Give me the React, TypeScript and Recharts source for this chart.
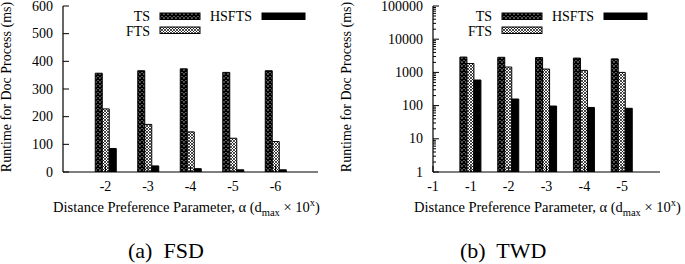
import React from 'react';
import { BarChart, Bar, XAxis, YAxis, Legend } from 'recharts';

const FONT = "'Liberation Serif', 'Times New Roman', Times, serif";
const TXT: React.CSSProperties = { fontFamily: FONT };

// ---------- (a) FSD ----------
const fsdCategories = ['-2', '-3', '-4', '-5', '-6'];
const fsdTS = [357, 366, 373, 360, 366];
const fsdFTS = [228, 172, 145, 122, 110];
const fsdHSFTS = [85, 22, 12, 8, 8];
const fsdYTicks = [0, 100, 200, 300, 400, 500, 600];

// ---------- (b) TWD ----------
const twdEdgeLabel = '-1';
const twdCategories = ['-1', '-2', '-3', '-4', '-5'];
const twdTS = [2900, 2850, 2800, 2700, 2550];
const twdFTS = [1850, 1450, 1260, 1150, 1000];
const twdHSFTS = [590, 158, 97, 88, 83];
const twdMajorTicks = [1, 10, 100, 1000, 10000, 100000];

const seriesNames = ['TS', 'FTS', 'HSFTS'];
const captions = ['(a)  FSD', '(b)  TWD'];

const buildRows = (ts: number[], fts: number[], hs: number[]) =>
  ts.map((v, i) => ({ pos: i + 1, TS: v, FTS: fts[i], HSFTS: hs[i] }));

const fsdRows = buildRows(fsdTS, fsdFTS, fsdHSFTS);
const twdRows = buildRows(twdTS, twdFTS, twdHSFTS);

const twdAllTicks: number[] = [];
twdMajorTicks.forEach((d, i) => {
  twdAllTicks.push(d);
  if (i < twdMajorTicks.length - 1) for (let m = 2; m <= 9; m++) twdAllTicks.push(d * m);
});
const isPow10 = (v: number) => Math.abs(Math.log10(v) - Math.round(Math.log10(v))) < 1e-9;

const MAJ = 6;
const MIN = 3;
const Y_MARGIN = 10;
const X_MARGIN = 9;

const fills: Record<string, string> = { TS: 'url(#patTS)', FTS: 'url(#patFTS)', HSFTS: '#000' };

const makeLeftTick = (isMajor: (v: number) => boolean) => (props: any) => {
  const { x, y, payload } = props;
  const v = payload.value;
  const major = isMajor(v);
  const ax = x + Y_MARGIN;
  return (
    <g>
      <line x1={ax} y1={y} x2={ax + (major ? MAJ : MIN)} y2={y} stroke="#000" strokeWidth={1} />
      {major && (
        <text x={x} y={y} textAnchor="end" dominantBaseline="central" style={TXT} fontSize={14} fill="#000">
          {String(v)}
        </text>
      )}
    </g>
  );
};

const makeRightTick = (isMajor: (v: number) => boolean) => (props: any) => {
  const { x, y, payload } = props;
  const major = isMajor(payload.value);
  return <line x1={x} y1={y} x2={x - (major ? MAJ : MIN)} y2={y} stroke="#000" strokeWidth={1} />;
};

const makeBottomTick = (fmt: (v: number) => string) => (props: any) => {
  const { x, y, payload } = props;
  const ay = y - X_MARGIN;
  return (
    <g>
      <line x1={x} y1={ay} x2={x} y2={ay - MAJ} stroke="#000" strokeWidth={1} />
      <text x={x} y={y} dy="0.71em" textAnchor="middle" style={TXT} fontSize={14} fill="#000">
        {fmt(payload.value)}
      </text>
    </g>
  );
};

const TopTick = (props: any) => {
  const { x, y } = props;
  return <line x1={x} y1={y} x2={x} y2={y + MAJ} stroke="#000" strokeWidth={1} />;
};

const makeXTitle = (cx: number, y: number) => () => (
  <text x={cx} y={y} textAnchor="middle" style={TXT} fontSize={14.5} fill="#000">
    Distance Preference Parameter, α (d
    <tspan fontSize={10.5} dy={4}>max</tspan>
    <tspan dy={-4}>{' \u00d7 10'}</tspan>
    <tspan fontSize={10.5} dy={-6}>x</tspan>
    <tspan dy={6}>)</tspan>
  </text>
);

const makeYTitle = (cx: number, cy: number) => () => (
  <text
    x={cx}
    y={cy}
    transform={`rotate(-90, ${cx}, ${cy})`}
    textAnchor="middle"
    dominantBaseline="central"
    style={TXT}
    fontSize={14}
    fill="#000"
  >
    Runtime for Doc Process (ms)
  </text>
);

const LegendBox = ({ dx, w }: { dx: number; w: number }) => {
  const txt = (x: number, y: number, s: string) => (
    <text x={x + dx} y={y} textAnchor="end" dominantBaseline="central" style={TXT} fontSize={14} fill="#000">
      {s}
    </text>
  );
  return (
    <svg width={w} height={40} style={{ display: 'block' }}>
      {txt(150, 16, seriesNames[0])}
      <rect x={160 + dx} y={13} width={40} height={6.5} fill={fills.TS} stroke="#000" strokeWidth={1} />
      {txt(252, 16, seriesNames[2])}
      <rect x={262 + dx} y={13} width={43} height={6.5} fill={fills.HSFTS} stroke="#000" strokeWidth={1} />
      {txt(150, 31, seriesNames[1])}
      <rect x={160 + dx} y={27} width={40} height={6.5} fill={fills.FTS} stroke="#000" strokeWidth={1} />
    </svg>
  );
};

const axisLine = { stroke: '#000', strokeWidth: 1.2 };

const FsdChart = () => {
  const xTicks = [1, 2, 3, 4, 5];
  const fmt = (v: number) => fsdCategories[v - 1] ?? '';
  return (
    <BarChart width={342} height={264} data={fsdRows} margin={{ top: 6, right: 24, bottom: 52, left: 0 }} barGap={0}>
      <Legend
        layout="horizontal"
        verticalAlign="middle"
        align="center"
        wrapperStyle={{ top: 0, left: 0, width: 342, height: 40 }}
        content={() => <LegendBox dx={0} w={342} />}
      />
      <XAxis
        dataKey="pos"
        type="number"
        domain={[0, 6]}
        allowDataOverflow
        ticks={xTicks}
        interval={0}
        height={40}
        tickSize={0}
        tickMargin={X_MARGIN}
        tickLine={false}
        axisLine={axisLine}
        tick={makeBottomTick(fmt)}
        label={{ content: makeXTitle(186.5, 212) }}
      />
      <XAxis
        xAxisId="t"
        orientation="top"
        dataKey="pos"
        type="number"
        domain={[0, 6]}
        allowDataOverflow
        ticks={xTicks}
        interval={0}
        height={0}
        tickSize={0}
        tickMargin={0}
        tickLine={false}
        axisLine={axisLine}
        tick={TopTick}
      />
      <YAxis
        type="number"
        domain={[0, 600]}
        allowDataOverflow
        ticks={fsdYTicks}
        interval={0}
        width={63}
        tickSize={0}
        tickMargin={Y_MARGIN}
        tickLine={false}
        axisLine={axisLine}
        tick={makeLeftTick(() => true)}
        label={{ content: makeYTitle(6.5, 87) }}
      />
      <YAxis
        yAxisId="r"
        orientation="right"
        type="number"
        domain={[0, 600]}
        allowDataOverflow
        ticks={fsdYTicks}
        interval={0}
        width={0}
        tickSize={0}
        tickMargin={0}
        tickLine={false}
        axisLine={axisLine}
        tick={makeRightTick(() => true)}
      />
      {seriesNames.map((s) => (
        <Bar key={s} dataKey={s} barSize={7} fill={fills[s]} stroke="#000" strokeWidth={1} isAnimationActive={false} />
      ))}
    </BarChart>
  );
};

const TwdChart = () => {
  const xTicks = [0, 1, 2, 3, 4, 5];
  const fmt = (v: number) => (v === 0 ? twdEdgeLabel : twdCategories[v - 1] ?? '');
  return (
    <BarChart width={355} height={264} data={twdRows} margin={{ top: 6, right: 25, bottom: 52, left: 0 }} barGap={0}>
      <Legend
        layout="horizontal"
        verticalAlign="middle"
        align="center"
        wrapperStyle={{ top: 0, left: 0, width: 355, height: 40 }}
        content={() => <LegendBox dx={12} w={355} />}
      />
      <XAxis
        dataKey="pos"
        type="number"
        domain={[0, 6]}
        allowDataOverflow
        ticks={xTicks}
        interval={0}
        height={40}
        tickSize={0}
        tickMargin={X_MARGIN}
        tickLine={false}
        axisLine={axisLine}
        tick={makeBottomTick(fmt)}
        label={{ content: makeXTitle(217.5, 212) }}
      />
      <XAxis
        xAxisId="t"
        orientation="top"
        dataKey="pos"
        type="number"
        domain={[0, 6]}
        allowDataOverflow
        ticks={xTicks}
        interval={0}
        height={0}
        tickSize={0}
        tickMargin={0}
        tickLine={false}
        axisLine={axisLine}
        tick={TopTick}
      />
      <YAxis
        type="number"
        scale="log"
        domain={[1, 100000]}
        allowDataOverflow
        ticks={twdAllTicks}
        interval={0}
        width={103}
        tickSize={0}
        tickMargin={Y_MARGIN}
        tickLine={false}
        axisLine={axisLine}
        tick={makeLeftTick(isPow10)}
        label={{ content: makeYTitle(16.5, 87) }}
      />
      <YAxis
        yAxisId="r"
        orientation="right"
        type="number"
        scale="log"
        domain={[1, 100000]}
        allowDataOverflow
        ticks={twdAllTicks}
        interval={0}
        width={0}
        tickSize={0}
        tickMargin={0}
        tickLine={false}
        axisLine={axisLine}
        tick={makeRightTick(isPow10)}
      />
      {seriesNames.map((s) => (
        <Bar key={s} dataKey={s} barSize={7} fill={fills[s]} stroke="#000" strokeWidth={1} isAnimationActive={false} />
      ))}
    </BarChart>
  );
};

export default function App() {
  return (
    <div style={{ position: 'absolute', top: 0, left: 0, width: 685, height: 264, background: '#fff', overflow: 'hidden' }}>
      <svg width={685} height={264} style={{ position: 'absolute', top: 0, left: 0 }}>
        <defs>
          <pattern id="patTS" patternUnits="userSpaceOnUse" width={4} height={4}>
            <rect width={4} height={4} fill="#fff" />
            <path d="M0,0 L4,4 M4,0 L0,4" stroke="#000" strokeWidth={1.6} />
          </pattern>
          <pattern id="patFTS" patternUnits="userSpaceOnUse" width={3} height={3}>
            <rect width={3} height={3} fill="#fff" />
            <path d="M0,0 L3,3 M3,0 L0,3" stroke="#000" strokeWidth={0.7} />
          </pattern>
        </defs>
        <text x={128} y={258} style={{ ...TXT, whiteSpace: 'pre' }} fontSize={22} fill="#000">
          {captions[0]}
        </text>
        <text x={460} y={258} style={{ ...TXT, whiteSpace: 'pre' }} fontSize={22} fill="#000">
          {captions[1]}
        </text>
      </svg>
      <div style={{ position: 'absolute', top: 0, left: 0 }}>
        <FsdChart />
      </div>
      <div style={{ position: 'absolute', top: 0, left: 330 }}>
        <TwdChart />
      </div>
    </div>
  );
}
